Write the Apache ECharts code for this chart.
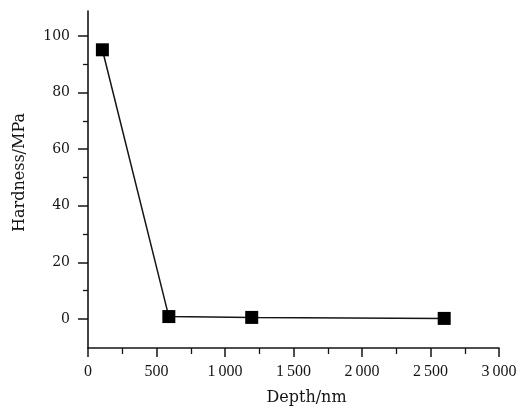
<!DOCTYPE html>
<html>
<head>
<meta charset="utf-8">
<script src="https://cdn.jsdelivr.net/npm/echarts@6/dist/echarts.min.js"></script>
<style>
  html, body { margin: 0; padding: 0; background: #fff; }
  #chart { width: 523px; height: 412px; }
</style>
</head>
<body>
<div id="chart"></div>
<script>
// Hardness measured at increasing indentation depth
const depthNm = [105, 590, 1195, 2600];
const hardnessMPa = [95.3, 1.1, 0.8, 0.45];

const xTicks = [0, 500, 1000, 1500, 2000, 2500, 3000];
const xTickLabels = ['0', '500', '1\u2009000', '1\u2009500', '2\u2009000', '2\u2009500', '3\u2009000'];
const yTickLabels = ['0', '20', '40', '60', '80', '100'];

const ink = '#151515';
const serifWide = 'DejaVu Serif';
const serif = 'Liberation Serif';

const points = depthNm.map((d, i) => [d, hardnessMPa[i]]);

const chart = echarts.init(document.getElementById('chart'), null, { renderer: 'canvas' });

chart.setOption({
  animation: false,
  backgroundColor: '#ffffff',
  grid: [
    // plot frame: full axis extent
    { left: 88, right: 24, top: 11, bottom: 64, containLabel: false },
    // y-scale ticks and labels for 0..100
    { left: 88, right: 24, top: 36, bottom: 93, containLabel: false }
  ],
  xAxis: [
    {
      gridIndex: 0,
      type: 'value',
      min: xTicks[0],
      max: xTicks[xTicks.length - 1],
      interval: 500,
      axisLine: { show: true, onZero: false, lineStyle: { color: ink, width: 1.6 } },
      axisTick: { show: true, inside: false, length: 9, lineStyle: { color: ink, width: 1.5 } },
      minorTick: { show: true, splitNumber: 2, length: 6, lineStyle: { color: ink, width: 1.3 } },
      splitLine: { show: false },
      minorSplitLine: { show: false },
      axisLabel: {
        margin: 16,
        fontFamily: serif,
        fontSize: 16,
        color: ink,
        formatter: v => {
          const i = xTicks.indexOf(v);
          return i >= 0 ? xTickLabels[i] : '';
        }
      },
      name: 'Depth/nm',
      nameLocation: 'middle',
      nameGap: 42,
      nameTextStyle: { fontFamily: serifWide, fontSize: 16, color: ink, padding: [0, 0, 0, 26] }
    },
    {
      gridIndex: 1,
      type: 'value',
      min: 0,
      max: 3000,
      show: false
    }
  ],
  yAxis: [
    {
      gridIndex: 0,
      type: 'value',
      min: -10,
      max: 109,
      axisLine: { show: true, onZero: false, lineStyle: { color: ink, width: 1.6 } },
      axisTick: { show: false },
      axisLabel: { show: false },
      splitLine: { show: false },
      name: 'Hardness/MPa',
      nameLocation: 'middle',
      nameGap: 60,
      nameRotate: 90,
      nameTextStyle: { fontFamily: serifWide, fontSize: 16, color: ink, padding: [0, 0, 0, 14] }
    },
    {
      gridIndex: 1,
      type: 'value',
      min: 0,
      max: 100,
      interval: 20,
      axisLine: { show: false },
      axisTick: { show: true, inside: false, length: 10, lineStyle: { color: ink, width: 1.5 } },
      minorTick: { show: true, splitNumber: 2, length: 5, lineStyle: { color: ink, width: 1.3 } },
      splitLine: { show: false },
      minorSplitLine: { show: false },
      axisLabel: {
        margin: 18,
        fontFamily: serifWide,
        fontSize: 14,
        color: ink,
        formatter: v => {
          const s = String(v);
          return yTickLabels.indexOf(s) >= 0 ? s : '';
        }
      }
    }
  ],
  series: [
    {
      type: 'line',
      xAxisIndex: 0,
      yAxisIndex: 0,
      data: points,
      symbol: 'rect',
      symbolSize: 13,
      showSymbol: true,
      lineStyle: { color: ink, width: 1.5 },
      itemStyle: { color: '#000', borderWidth: 0 },
      emphasis: { disabled: true },
      z: 3
    }
  ]
});
</script>
</body>
</html>
